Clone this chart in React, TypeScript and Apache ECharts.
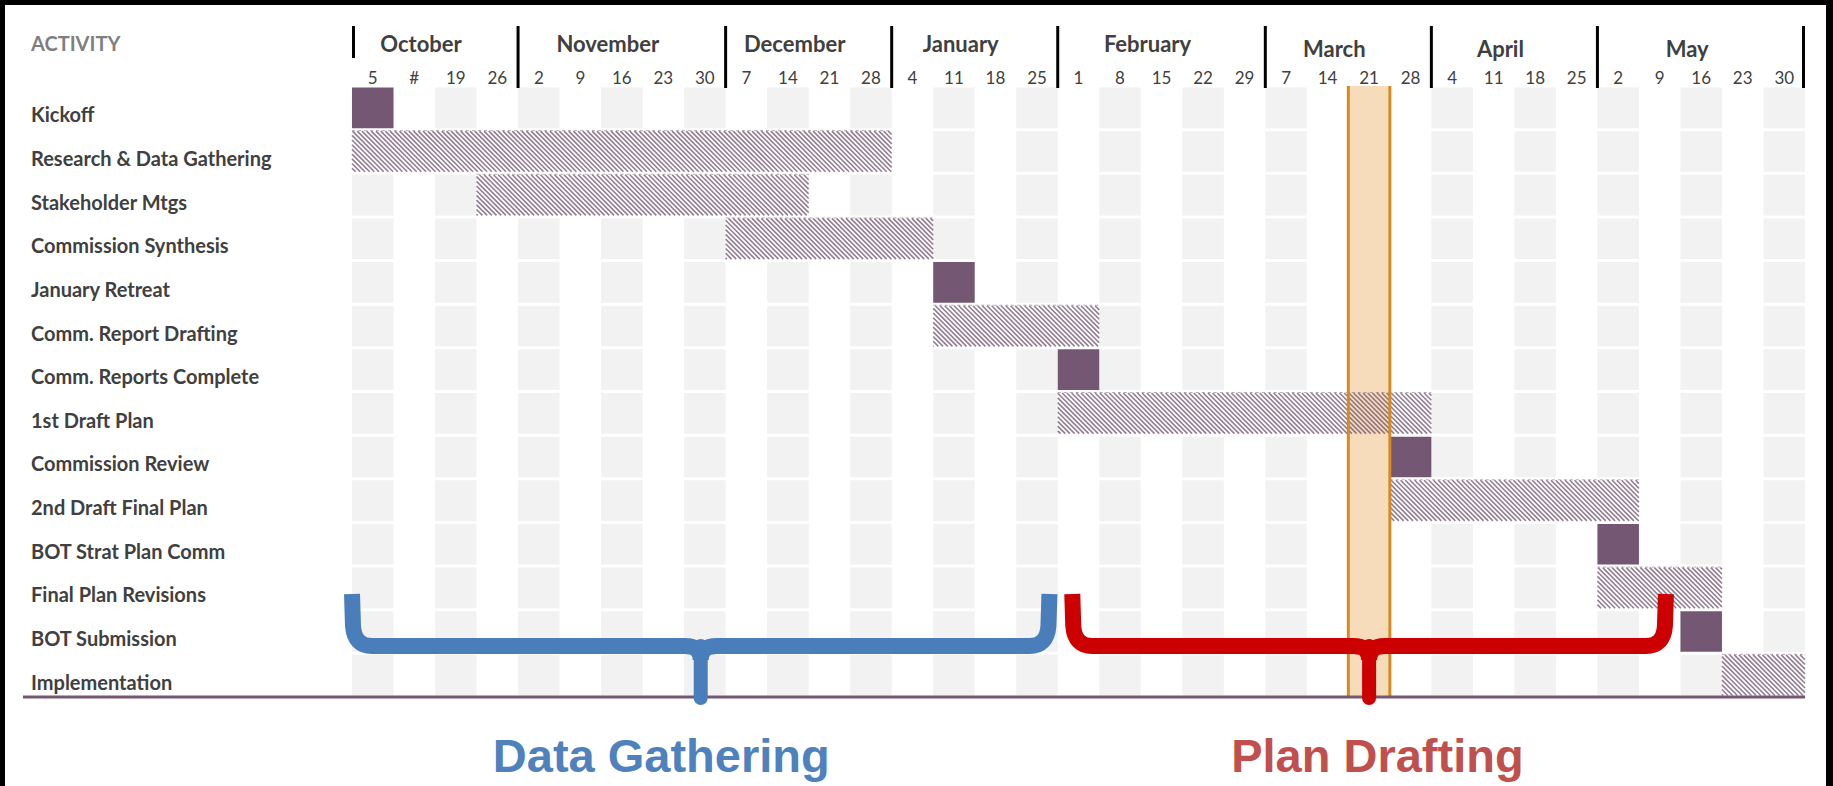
import React, { useEffect, useRef } from 'react';
import * as echarts from 'echarts';

// ---------- data ----------
const weekLabels = ['5', '#', '19', '26', '2', '9', '16', '23', '30', '7', '14', '21', '28', '4', '11', '18', '25', '1', '8', '15', '22', '29', '7', '14', '21', '28', '4', '11', '18', '25', '2', '9', '16', '23', '30'];
const monthNames = ['October', 'November', 'December', 'January', 'February', 'March', 'April', 'May'];
const monthWeekCounts = [4, 5, 4, 4, 5, 4, 4, 5];
const activities = ['Kickoff', 'Research & Data Gathering', 'Stakeholder Mtgs', 'Commission Synthesis', 'January Retreat', 'Comm. Report Drafting', 'Comm. Reports Complete', '1st Draft Plan', 'Commission Review', '2nd Draft Final Plan', 'BOT Strat Plan Comm', 'Final Plan Revisions', 'BOT Submission', 'Implementation'];
const taskStartWeek = [0, 0, 3, 9, 14, 14, 17, 17, 25, 25, 30, 30, 32, 33];
const taskWeeks = [1, 13, 8, 5, 1, 4, 1, 9, 1, 6, 1, 3, 1, 2];
const taskIsMilestone = [true, false, false, false, true, false, true, false, true, false, true, false, true, false];
const highlightWeek = 24; // March 21
const phaseNames = ['Data Gathering', 'Plan Drafting'];
const phaseFrom = [0, 17.35];
const phaseTo = [16.8, 31.65];
const phaseLabelAt = [7.45, 24.7];

// ---------- style ----------
const PURPLE = '#745873';
const TEXT = '#404040';
const braceColors = ['#4a7ebb', '#cc0000'];
const phaseTextColors = ['#4f81bd', '#c0504d'];

const nWeeks = weekLabels.length;
const nRows = activities.length;
const monthStart: number[] = [];
{
  let acc = 0;
  monthWeekCounts.forEach((c) => { monthStart.push(acc); acc += c; });
}

function yBounds(api: any): [number, number] {
  const bh = api.size([0, 1])[1];
  return [api.coord([0, 0])[1] - bh / 2, api.coord([0, nRows - 1])[1] + bh / 2];
}

function hatchPath(x0: number, x1: number, y0: number, y1: number, step: number): string {
  const h = y1 - y0;
  let d = '';
  let a = Math.floor((x0 - h) / step) * step;
  for (; a < x1; a += step) {
    const s = Math.max(0, x0 - a);
    const e = Math.min(h, x1 - a);
    if (e > s) d += `M${(a + s).toFixed(2)} ${(y0 + s).toFixed(2)}L${(a + e).toFixed(2)} ${(y0 + e).toFixed(2)}`;
  }
  return d;
}

function bracePath(xa: number, xb: number, yTop: number, yH: number): string {
  const xc = (xa + xb) / 2;
  const r = 20;
  return `M${xa} ${yTop}L${xa + 1} ${yH - r}Q${xa + 2.5} ${yH} ${xa + r} ${yH}L${xc - 16} ${yH}Q${xc} ${yH} ${xc} ${yH + 14}` +
    `M${xb} ${yTop}L${xb - 1} ${yH - r}Q${xb - 2.5} ${yH} ${xb - r} ${yH}L${xc + 16} ${yH}Q${xc} ${yH} ${xc} ${yH + 14}`;
}

function barRect(api: any) {
  const r = api.value(0), s = api.value(1), e = api.value(2);
  const p0 = api.coord([s, r]);
  const x1 = api.coord([e, r])[0];
  const bh = api.size([0, 1])[1];
  return { x0: p0[0], x1, y0: p0[1] - bh / 2 + 1.5, y1: p0[1] + bh / 2 - 1.5 };
}

function buildOption(): any {
  const cellData: number[][] = [];
  for (let w = 0; w < nWeeks; w += 2) for (let r = 0; r < nRows; r++) cellData.push([w, r]);

  const taskData = activities.map((_, i) => [i, taskStartWeek[i], taskStartWeek[i] + taskWeeks[i], taskIsMilestone[i] ? 1 : 0]);
  const monthData = monthNames.map((_, i) => [monthStart[i], monthStart[i] + monthWeekCounts[i], 0]);
  const phaseData = phaseNames.map((_, i) => [phaseFrom[i], phaseTo[i], phaseLabelAt[i], nRows - 1]);

  return {
    animation: false,
    backgroundColor: '#ffffff',
    textStyle: { fontFamily: 'Lato' },
    grid: { left: 352, right: 28, top: 86, bottom: 89, containLabel: false, outerBoundsMode: 'none' },
    xAxis: [
      {
        type: 'category', data: weekLabels, position: 'top', boundaryGap: true,
        axisLine: { show: false }, axisTick: { show: false }, splitLine: { show: false }, splitArea: { show: false },
        axisLabel: { interval: 0, margin: 0, color: TEXT, fontFamily: 'Lato', fontSize: 17, lineHeight: 17, hideOverlap: false },
      },
      { type: 'value', min: 0, max: nWeeks, show: false, position: 'bottom' },
    ],
    yAxis: [
      {
        type: 'category', data: activities, inverse: true,
        axisLine: { show: false }, axisTick: { show: false }, splitLine: { show: false },
        axisLabel: { interval: 0, align: 'left', verticalAlign: 'top', lineHeight: 13, margin: 321, color: TEXT, fontFamily: 'Lato', fontWeight: 'bold', fontSize: 20 },
      },
    ],
    graphic: [
      { type: 'rect', shape: { x: 0, y: 0, width: 1833, height: 5 }, style: { fill: '#000' }, z: 100 },
      { type: 'rect', shape: { x: 0, y: 0, width: 5, height: 786 }, style: { fill: '#000' }, z: 100 },
      { type: 'rect', shape: { x: 1826, y: 0, width: 7, height: 786 }, style: { fill: '#000' }, z: 100 },
      { type: 'text', x: 31, y: 43, style: { text: 'ACTIVITY', fill: '#7f7f7f', fontFamily: 'Lato', fontWeight: 'bold', fontSize: 20, verticalAlign: 'middle' }, z: 100 },
    ],
    series: [
      // alternating grey week cells
      {
        type: 'custom', xAxisIndex: 1, yAxisIndex: 0, z: 1, silent: true,
        encode: { x: 0, y: 1 }, data: cellData,
        renderItem: (params: any, api: any) => {
          const w = api.value(0), r = api.value(1);
          const p0 = api.coord([w, r]);
          const p1 = api.coord([w + 1, r]);
          const bh = api.size([0, 1])[1];
          return { type: 'rect', shape: { x: p0[0], y: p0[1] - bh / 2 + 1.5, width: p1[0] - p0[0], height: bh - 3 }, style: { fill: '#f2f2f2' } };
        },
      },
      // white ground under bars
      {
        type: 'custom', xAxisIndex: 1, yAxisIndex: 0, z: 2, silent: true,
        encode: { x: [1, 2], y: 0 }, data: taskData,
        renderItem: (params: any, api: any) => {
          const b = barRect(api);
          return { type: 'rect', shape: { x: b.x0, y: b.y0, width: b.x1 - b.x0, height: b.y1 - b.y0 }, style: { fill: '#ffffff' } };
        },
      },
      // highlighted week fill
      {
        type: 'custom', xAxisIndex: 1, yAxisIndex: 0, z: 3, silent: true,
        encode: { x: 0, y: 1 }, data: [[highlightWeek, 0]],
        renderItem: (params: any, api: any) => {
          const w = api.value(0);
          const xa = api.coord([w, 0])[0], xb = api.coord([w + 1, 0])[0];
          const [yt, yb] = yBounds(api);
          return { type: 'rect', shape: { x: xa, y: yt, width: xb - xa, height: yb - yt }, style: { fill: '#f6dcba' } };
        },
      },
      // task bars (solid milestones, hatched spans)
      {
        type: 'custom', xAxisIndex: 1, yAxisIndex: 0, z: 4, silent: true,
        encode: { x: [1, 2], y: 0 }, data: taskData,
        renderItem: (params: any, api: any) => {
          const b = barRect(api);
          if (api.value(3)) {
            return { type: 'rect', shape: { x: b.x0, y: b.y0, width: b.x1 - b.x0, height: b.y1 - b.y0 }, style: { fill: PURPLE } };
          }
          return {
            type: 'group',
            children: [
              { type: 'path', shape: { pathData: hatchPath(b.x0, b.x1, b.y0, b.y1, 4.7) }, style: { fill: 'none', stroke: 'rgba(116,88,115,0.78)', lineWidth: 1.6 } },
              { type: 'line', shape: { x1: b.x0, y1: b.y0 - 0.5, x2: b.x1, y2: b.y0 - 0.5 }, style: { stroke: 'rgba(116,88,115,0.5)', lineWidth: 1, lineDash: [3, 3] } },
            ],
          };
        },
      },
      // highlight borders
      {
        type: 'custom', xAxisIndex: 1, yAxisIndex: 0, z: 5, silent: true,
        encode: { x: 0, y: 1 }, data: [[highlightWeek, 0]],
        renderItem: (params: any, api: any) => {
          const w = api.value(0);
          const xa = api.coord([w, 0])[0], xb = api.coord([w + 1, 0])[0];
          const [yt, yb] = yBounds(api);
          return {
            type: 'group',
            children: [
              { type: 'rect', shape: { x: xa - 1.5, y: yt, width: 3, height: yb - yt }, style: { fill: '#d68b22' } },
              { type: 'rect', shape: { x: xb - 1.5, y: yt, width: 3, height: yb - yt }, style: { fill: '#d68b22' } },
            ],
          };
        },
      },
      // bottom purple rule
      {
        type: 'custom', xAxisIndex: 1, yAxisIndex: 0, z: 6, silent: true,
        encode: { x: 0, y: 1 }, data: [[nWeeks, nRows - 1]],
        renderItem: (params: any, api: any) => {
          const xr = api.coord([api.value(0), 0])[0];
          const [, yb] = yBounds(api);
          return { type: 'rect', shape: { x: 23, y: yb - 1.5, width: xr - 23, height: 3 }, style: { fill: PURPLE } };
        },
      },
      // month header
      {
        type: 'custom', xAxisIndex: 1, yAxisIndex: 0, z: 7, silent: true,
        encode: { x: [0, 1], y: 2 }, data: monthData,
        renderItem: (params: any, api: any) => {
          const i = params.dataIndex;
          const xs = api.coord([api.value(0), 0])[0];
          const xe = api.coord([api.value(1), 0])[0];
          const [yt] = yBounds(api);
          const children: any[] = [
            {
              type: 'text', x: (xs + xe) / 2 - 14, y: i >= 5 ? 48 : 43,
              style: { text: monthNames[i], fill: TEXT, fontFamily: 'Lato', fontWeight: 'bold', fontSize: 22, align: 'center', verticalAlign: 'middle' },
            },
            { type: 'rect', shape: { x: i === monthNames.length - 1 ? xe - 3 : xe - 1.5, y: 26, width: 3, height: yt + 2 - 26 }, style: { fill: '#000' } },
          ];
          if (i === 0) children.push({ type: 'rect', shape: { x: xs, y: 26, width: 3, height: 32 }, style: { fill: '#000' } });
          return { type: 'group', children };
        },
      },
      // phase braces and labels
      {
        type: 'custom', xAxisIndex: 1, yAxisIndex: 0, z: 8, silent: true, clip: false,
        encode: { x: [0, 1, 2], y: 3 }, data: phaseData,
        renderItem: (params: any, api: any) => {
          const i = params.dataIndex;
          const xa = api.coord([api.value(0), 0])[0];
          const xb = api.coord([api.value(1), 0])[0];
          const xl = api.coord([api.value(2), 0])[0];
          const xc = (xa + xb) / 2;
          const [, yb] = yBounds(api);
          const yTop = yb - 103, yH = yb - 51, yTip = yb + 8;
          return {
            type: 'group',
            children: [
              { type: 'path', shape: { pathData: bracePath(xa, xb, yTop, yH) }, style: { fill: 'none', stroke: braceColors[i], lineWidth: 16, lineCap: 'butt', lineJoin: 'round' } },
              { type: 'line', shape: { x1: xc, y1: yH, x2: xc, y2: yTip - 7 }, style: { stroke: braceColors[i], lineWidth: 14, lineCap: 'round' } },
              {
                type: 'text', x: xl, y: yb + 58,
                style: { text: phaseNames[i], fill: phaseTextColors[i], fontFamily: 'Liberation Sans', fontWeight: 'bold', fontSize: 47, align: 'center', verticalAlign: 'middle' },
              },
            ],
          };
        },
      },
    ],
  };
}

export default function App() {
  const ref = useRef<HTMLDivElement>(null);
  useEffect(() => {
    if (!ref.current) return;
    const chart = echarts.init(ref.current, null, { renderer: 'svg' });
    chart.setOption(buildOption());
    return () => chart.dispose();
  }, []);
  return (
    <div
      ref={ref}
      style={{ position: 'fixed', left: 0, top: 0, width: '1833px', height: '786px', background: '#ffffff' }}
    />
  );
}
